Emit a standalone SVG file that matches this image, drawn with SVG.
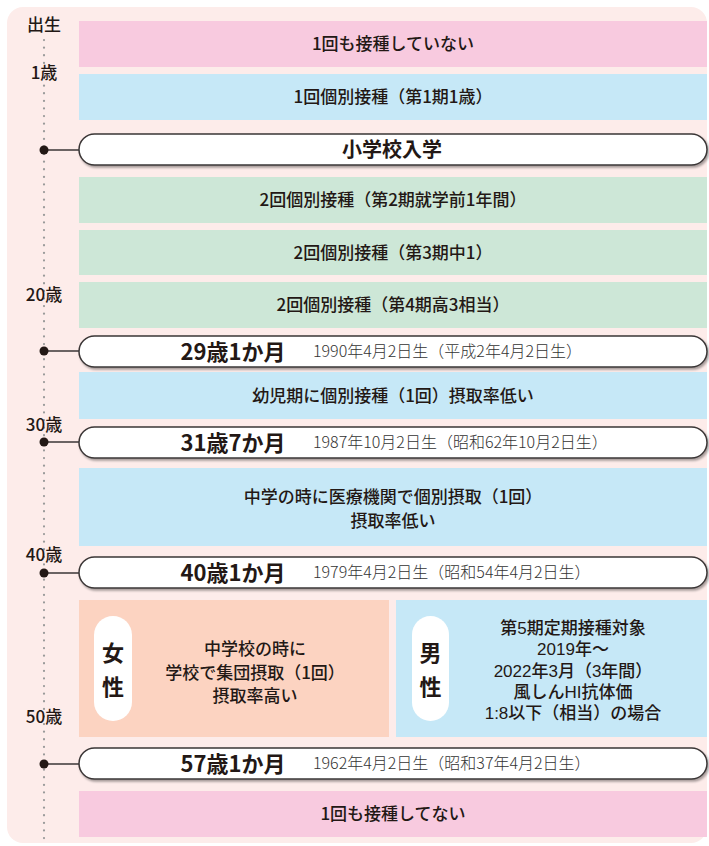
<svg xmlns="http://www.w3.org/2000/svg" width="709" height="846" viewBox="0 0 709 846">
<defs>
<filter id="sh" x="-5%" y="-30%" width="110%" height="180%">
<feDropShadow dx="1.5" dy="2" stdDeviation="1.2" flood-color="#000" flood-opacity="0.35"/>
</filter>
<style>
text{font-family:"Noto Sans CJK JP","Noto Sans",sans-serif;fill:#231815;}
.age{font-size:17px;font-weight:500;text-anchor:middle;}
.band{font-size:17px;font-weight:500;text-anchor:middle;}
.tight{font-family:"Liberation Sans","Noto Sans CJK JP",sans-serif;}
.pill{fill:#fff;stroke:#3a3636;stroke-width:1.5;filter:url(#sh);}
.big{font-size:22px;font-weight:700;text-anchor:middle;}
.date{font-size:16px;font-weight:300;fill:#333;}
.dot{fill:#231815;}
.conn{stroke:#3a3636;stroke-width:1.5;}
.sex{font-size:22px;font-weight:700;text-anchor:middle;}
.pink{fill:#f8cadf;}
.blue{fill:#c6e8f7;}
.green{fill:#cde7d7;}
.salmon{fill:#fcd3c1;}
</style>
</defs>
<rect x="7" y="7" width="700" height="836" rx="16" fill="#fdecea"/>
<line x1="44" y1="40" x2="44" y2="843" stroke="#9a9a9a" stroke-width="2.2" stroke-dasharray="0.1 7.5" stroke-linecap="round"/>
<g id="ages">
<text class="age" x="44" y="31">出生</text>
<text class="age" x="44" y="79">1歳</text>
<text class="age" x="44" y="301">20歳</text>
<text class="age" x="44" y="431">30歳</text>
<text class="age" x="44" y="561">40歳</text>
<text class="age" x="44" y="723">50歳</text>
</g>
<g id="connectors">
<line class="conn" x1="44" y1="150" x2="80" y2="150"/>
<circle class="dot" cx="44" cy="150" r="4.5"/>
<line class="conn" x1="44" y1="351" x2="80" y2="351"/>
<circle class="dot" cx="44" cy="351" r="4.5"/>
<line class="conn" x1="44" y1="442" x2="80" y2="442"/>
<circle class="dot" cx="44" cy="442" r="4.5"/>
<line class="conn" x1="44" y1="573" x2="80" y2="573"/>
<circle class="dot" cx="44" cy="573" r="4.5"/>
<line class="conn" x1="44" y1="764" x2="80" y2="764"/>
<circle class="dot" cx="44" cy="764" r="4.5"/>
</g>
<g id="band1">
<rect class="pink" x="79" y="21" width="628" height="46"/>
<text class="band" x="393" y="50">1回も接種していない</text>
</g>
<g id="band2">
<rect class="blue" x="79" y="74" width="628" height="46"/>
<text class="band" x="393" y="103">1回個別接種（第1期1歳）</text>
</g>
<g id="pill-school">
<rect class="pill" x="79" y="134" width="628" height="31" rx="15.5"/>
<text class="big" x="392" y="157" style="font-size:20px">小学校入学</text>
</g>
<g id="band3">
<rect class="green" x="79" y="177" width="628" height="46"/>
<text class="band" x="393" y="206">2回個別接種（第2期就学前1年間）</text>
</g>
<g id="band4">
<rect class="green" x="79" y="230" width="628" height="45"/>
<text class="band" x="393" y="258.5">2回個別接種（第3期中1）</text>
</g>
<g id="band5">
<rect class="green" x="79" y="282" width="628" height="46"/>
<text class="band" x="393" y="311">2回個別接種（第4期高3相当）</text>
</g>
<g id="pill-29">
<rect class="pill" x="79" y="336" width="628" height="31" rx="15.5"/>
<text class="big" x="233" y="359.5">29歳1か月</text>
<text class="date" x="313" y="357">1990年4月2日生（平成2年4月2日生）</text>
</g>
<g id="band6">
<rect class="blue" x="79" y="372" width="628" height="47"/>
<text class="band" x="393" y="401.5">幼児期に個別接種（1回）摂取率低い</text>
</g>
<g id="pill-31">
<rect class="pill" x="79" y="427" width="628" height="31" rx="15.5"/>
<text class="big" x="233" y="450.5">31歳7か月</text>
<text class="date" x="313" y="448">1987年10月2日生（昭和62年10月2日生）</text>
</g>
<g id="band7">
<rect class="blue" x="79" y="468" width="628" height="78"/>
<text class="band" x="393" y="503">中学の時に医療機関で個別摂取（1回）</text>
<text class="band" x="393" y="527">摂取率低い</text>
</g>
<g id="pill-40">
<rect class="pill" x="79" y="557" width="628" height="31" rx="15.5"/>
<text class="big" x="233" y="580.5">40歳1か月</text>
<text class="date" x="313" y="578">1979年4月2日生（昭和54年4月2日生）</text>
</g>
<g id="female">
<rect class="salmon" x="79" y="600" width="310" height="137"/>
<rect x="94" y="616" width="38" height="105" rx="19" fill="#fff"/>
<text class="sex" x="113" y="661">女</text>
<text class="sex" x="113" y="695">性</text>
<text class="band" x="255" y="655">中学校の時に</text>
<text class="band" x="255" y="679">学校で集団摂取（1回）</text>
<text class="band" x="255" y="702">摂取率高い</text>
</g>
<g id="male">
<rect class="blue" x="396" y="600" width="311" height="137"/>
<rect x="412" y="616" width="37" height="105" rx="18.5" fill="#fff"/>
<text class="sex" x="430.5" y="661">男</text>
<text class="sex" x="430.5" y="695">性</text>
<text class="band tight" x="573" y="634">第5期定期接種対象</text>
<text class="band tight" x="573" y="655">2019年～</text>
<text class="band tight" x="573" y="677">2022年3月（3年間）</text>
<text class="band tight" x="573" y="698">風しんHI抗体価</text>
<text class="band tight" x="573" y="719">1:8以下（相当）の場合</text>
</g>
<g id="pill-57">
<rect class="pill" x="79" y="748" width="628" height="31" rx="15.5"/>
<text class="big" x="233" y="771.5">57歳1か月</text>
<text class="date" x="313" y="769">1962年4月2日生（昭和37年4月2日生）</text>
</g>
<g id="band8">
<rect class="pink" x="79" y="791" width="628" height="46"/>
<text class="band" x="393" y="820">1回も接種してない</text>
</g>
</svg>
